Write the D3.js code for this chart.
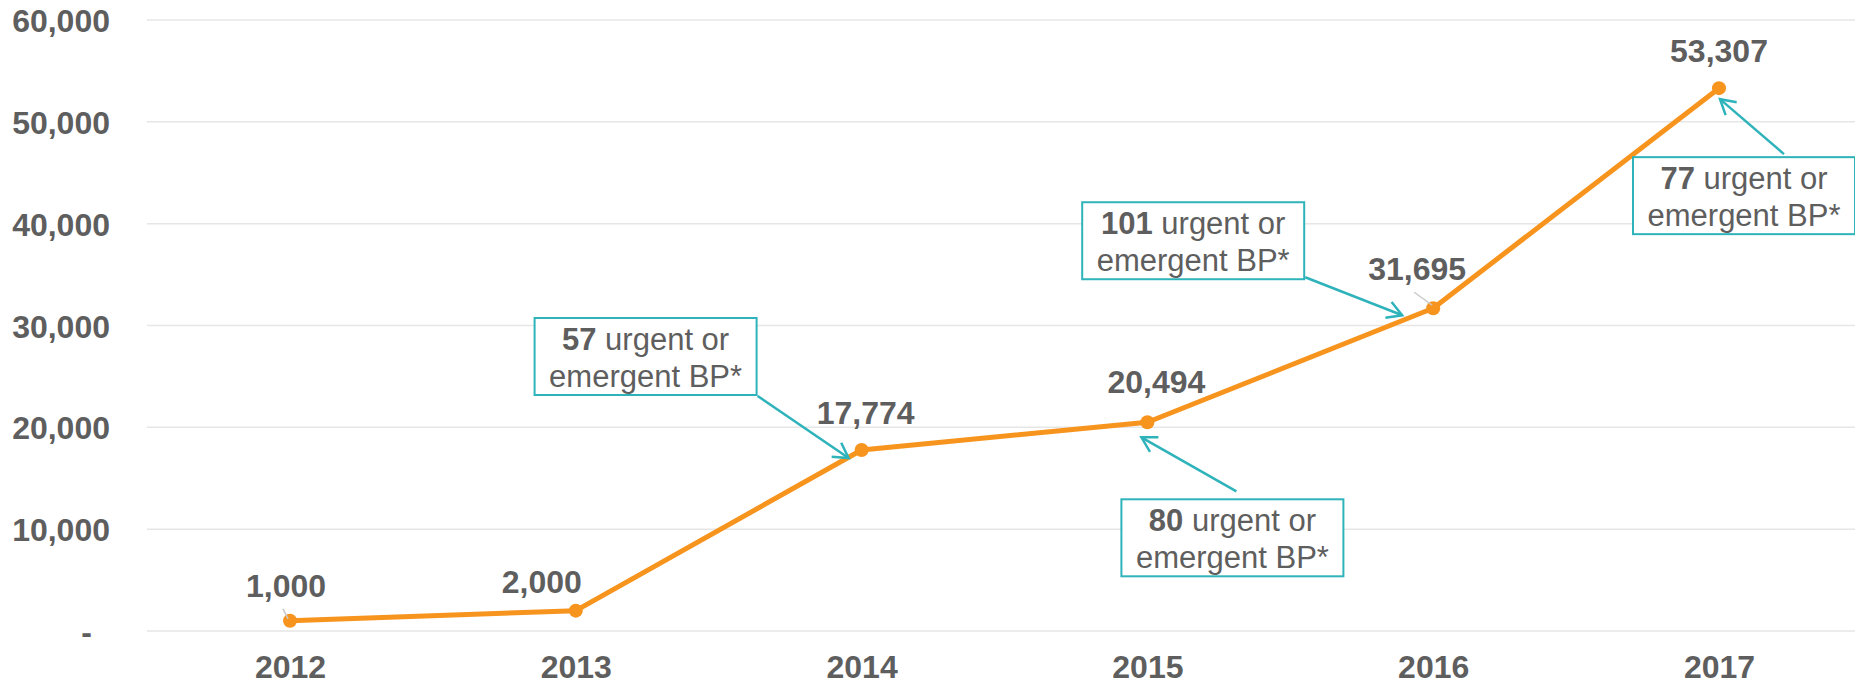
<!DOCTYPE html>
<html>
<head>
<meta charset="utf-8">
<script src="https://cdn.jsdelivr.net/npm/d3@7"></script>
<style>
  html, body { margin: 0; padding: 0; background: #fff; }
  svg { display: block; font-family: Arial, "Liberation Sans", sans-serif; }
</style>
</head>
<body>
<svg id="chart" width="1855" height="683"></svg>
<script>
// ---- data ----
const years = ["2012", "2013", "2014", "2015", "2016", "2017"];
const values = [1000, 2000, 17774, 20494, 31695, 53307];
const yTicks = [0, 10000, 20000, 30000, 40000, 50000, 60000];
const yTickLabels = ["-", "10,000", "20,000", "30,000", "40,000", "50,000", "60,000"];
const noteYears = ["2014", "2015", "2016", "2017"];
const noteCounts = ["57", "80", "101", "77"];
const noteText1 = " urgent or";
const noteText2 = "emergent BP*";

// ---- style / layout ----
const W = 1855, H = 683;
const orange = "#F7941E", teal = "#2FB3BB", gray = "#5E5E5E", grid = "#E6E6E6";
const boldSize = 32, noteSize = 31;
const svg = d3.select("#chart");

const x = d3.scalePoint().domain(years).range([290, 1719]);
const y = d3.scaleLinear().domain([0, 60000]).range([631, 20]);

// gridlines
svg.append("g").selectAll("line").data(yTicks).join("line")
  .attr("x1", 147).attr("x2", W)
  .attr("y1", d => y(d)).attr("y2", d => y(d))
  .attr("stroke", grid).attr("stroke-width", 1.5);

// y axis labels
const yAxis = d3.axisLeft(y).tickValues(yTicks)
  .tickFormat((d, i) => yTickLabels[i]).tickSize(0).tickPadding(0);
const yg = svg.append("g").attr("transform", "translate(110,0)").call(yAxis);
yg.select(".domain").remove();
yg.selectAll("text")
  .attr("fill", gray).attr("font-size", boldSize).attr("font-weight", "bold")
  .attr("font-family", "Arial, 'Liberation Sans', sans-serif")
  .attr("dy", "0.36em")
  .attr("dx", d => d === 0 ? -18 : 0);

// x axis labels
const xAxis = d3.axisBottom(x).tickSize(0).tickPadding(0);
const xg = svg.append("g").attr("transform", "translate(0,678)").call(xAxis);
xg.select(".domain").remove();
xg.selectAll("text")
  .attr("fill", gray).attr("font-size", boldSize).attr("font-weight", "bold")
  .attr("font-family", "Arial, 'Liberation Sans', sans-serif")
  .attr("y", 0).attr("dy", 0);

const pts = years.map((yr, i) => ({ yr, v: values[i], px: x(yr), py: y(values[i]) }));

// line
svg.append("path").datum(pts)
  .attr("d", d3.line().x(d => d.px).y(d => d.py))
  .attr("fill", "none").attr("stroke", orange).attr("stroke-width", 5)
  .attr("stroke-linejoin", "round");

// markers
svg.append("g").selectAll("circle").data(pts).join("circle")
  .attr("cx", d => d.px).attr("cy", d => d.py).attr("r", 7)
  .attr("fill", orange);

// value labels (offsets relative to each point)
const labelOff = [[-4, -24], [-34, -18], [4, -26], [9, -29], [-16, -28], [0, -26]];
const leaders = { "2012": [[-7, -12], [-2, -2]], "2016": [[-19, -16], [-1, -3]] };
Object.keys(leaders).forEach(k => {
  const p = pts.find(d => d.yr === k);
  const [a, b] = leaders[k];
  svg.append("line")
    .attr("x1", p.px + a[0]).attr("y1", p.py + a[1])
    .attr("x2", p.px + b[0]).attr("y2", p.py + b[1])
    .attr("stroke", "#C8C8C8").attr("stroke-width", 1.5);
});
svg.append("g").selectAll("text").data(pts).join("text")
  .attr("x", (d, i) => d.px + labelOff[i][0])
  .attr("y", (d, i) => d.py + labelOff[i][1])
  .attr("text-anchor", "middle")
  .attr("fill", gray).attr("font-size", boldSize).attr("font-weight", "bold")
  .text(d => d3.format(",")(d.v));

// annotations: box top-left offset relative to point, arrow start and end offsets
const noteLayout = {
  "2014": { box: [-327, -132], from: [-104, -54], to: [-13, 8] },
  "2015": { box: [-26, 77], from: [89, 69], to: [-6, 15] },
  "2016": { box: [-351, -106], from: [-128, -31], to: [-31, 7] },
  "2017": { box: [-86, 69], from: [65, 66], to: [1, 11] }
};
const bw = 222, bh = 77;
const ann = svg.append("g");
noteYears.forEach((yr, i) => {
  const p = pts.find(d => d.yr === yr);
  const L = noteLayout[yr];
  const bx = p.px + L.box[0], by = p.py + L.box[1];
  ann.append("rect")
    .attr("x", bx).attr("y", by).attr("width", bw).attr("height", bh)
    .attr("fill", "#fff").attr("stroke", teal).attr("stroke-width", 2);
  const t1 = ann.append("text")
    .attr("x", bx + bw / 2).attr("y", by + 32)
    .attr("text-anchor", "middle").attr("fill", gray).attr("font-size", noteSize);
  t1.append("tspan").attr("font-weight", "bold").text(noteCounts[i]);
  t1.append("tspan").text(noteText1);
  ann.append("text")
    .attr("x", bx + bw / 2).attr("y", by + 69)
    .attr("text-anchor", "middle").attr("fill", gray).attr("font-size", noteSize)
    .text(noteText2);
  // arrow
  const x1 = p.px + L.from[0], y1 = p.py + L.from[1];
  const x2 = p.px + L.to[0], y2 = p.py + L.to[1];
  ann.append("line")
    .attr("x1", x1).attr("y1", y1).attr("x2", x2).attr("y2", y2)
    .attr("stroke", teal).attr("stroke-width", 2.5);
  const ang = Math.atan2(y2 - y1, x2 - x1);
  const len = 17, spread = Math.PI / 6;
  const head = [ang + Math.PI - spread, ang + Math.PI + spread].map(a => [x2 + len * Math.cos(a), y2 + len * Math.sin(a)]);
  ann.append("path")
    .attr("d", `M${head[0][0]},${head[0][1]}L${x2},${y2}L${head[1][0]},${head[1][1]}`)
    .attr("fill", "none").attr("stroke", teal).attr("stroke-width", 2.5);
});
</script>
</body>
</html>
